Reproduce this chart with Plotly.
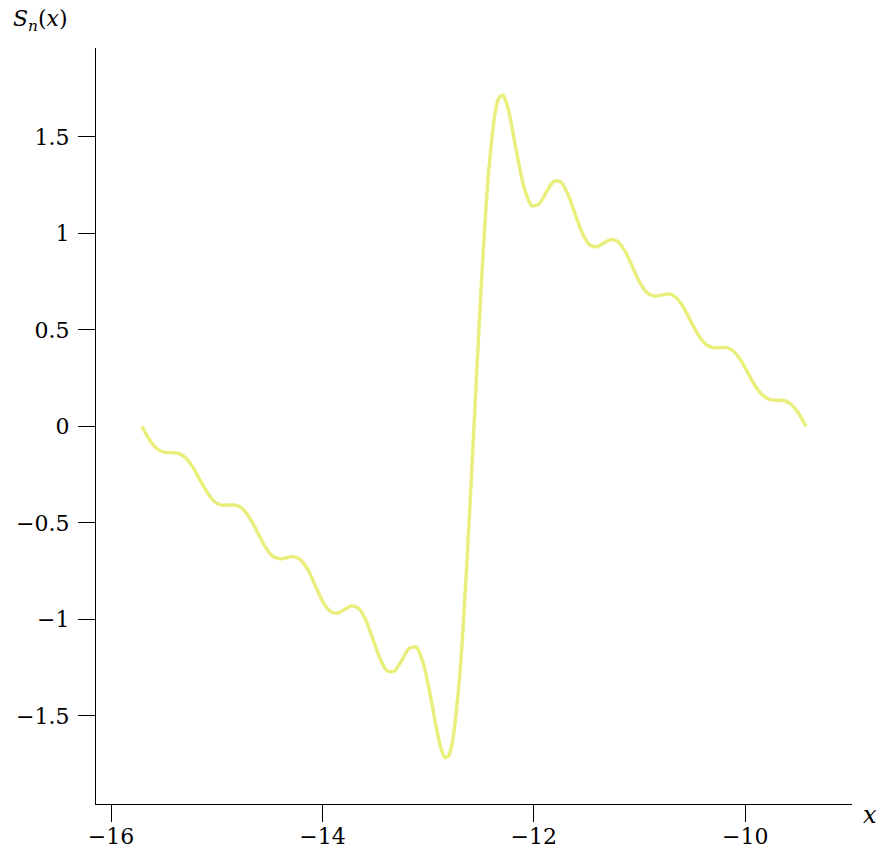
import plotly.graph_objects as go

# Partial Fourier sum S_n(x) (x from -5π to -3π)
x_values = [
    -15.708, -15.640, -15.572, -15.503, -15.435, -15.367, -15.298, -15.230, -15.162, -15.093,
    -15.025, -14.957, -14.889, -14.820, -14.752, -14.684, -14.615, -14.547, -14.479, -14.411,
    -14.342, -14.274, -14.206, -14.137, -14.069, -14.001, -13.932, -13.864, -13.796, -13.728,
    -13.659, -13.591, -13.523, -13.454, -13.386, -13.318, -13.250, -13.181, -13.113, -13.045,
    -12.976, -12.908, -12.874, -12.840, -12.805, -12.771, -12.703, -12.635,
    -12.566,
    -12.498, -12.430, -12.362, -12.327, -12.293, -12.259, -12.225, -12.157, -12.088, -12.020,
    -11.952, -11.883,
    -11.815, -11.747, -11.679, -11.610, -11.542, -11.474, -11.405, -11.337, -11.269, -11.201,
    -11.132, -11.064, -10.996, -10.927, -10.859, -10.791, -10.722, -10.654, -10.586, -10.518,
    -10.449, -10.381, -10.313, -10.244, -10.176, -10.108, -10.040, -9.971, -9.903, -9.835,
    -9.766, -9.698, -9.630, -9.561, -9.493, -9.425,
]
y_values = [
    0.0, -0.065, -0.112, -0.133, -0.136, -0.139, -0.161, -0.208, -0.274, -0.340,
    -0.388, -0.408, -0.408, -0.409, -0.429, -0.478, -0.548, -0.619, -0.668, -0.686,
    -0.681, -0.675, -0.692, -0.744, -0.823, -0.903, -0.956, -0.969, -0.951, -0.931,
    -0.942, -1.002, -1.101, -1.204, -1.268, -1.267, -1.213, -1.152, -1.144, -1.230,
    -1.403, -1.601, -1.676, -1.716, -1.706, -1.637, -1.303, -0.725,
    0.0,
    0.725, 1.303, 1.637, 1.706, 1.716, 1.676, 1.601, 1.403, 1.230, 1.144,
    1.152, 1.213,
    1.267, 1.268, 1.204, 1.101, 1.002, 0.942, 0.931, 0.951, 0.969, 0.956,
    0.903, 0.823, 0.744, 0.692, 0.675, 0.681, 0.686, 0.668, 0.619, 0.548,
    0.478, 0.429, 0.409, 0.408, 0.408, 0.388, 0.340, 0.274, 0.208, 0.161,
    0.139, 0.136, 0.133, 0.112, 0.065, 0.0,
]

x_tick_vals = [-16, -14, -12, -10]
x_tick_text = ["−16", "−14", "−12", "−10"]
y_tick_vals = [-1.5, -1, -0.5, 0, 0.5, 1, 1.5]
y_tick_text = ["−1.5", "−1", "−0.5", "0", "0.5", "1", "1.5"]

FONT = "DejaVu Serif"

fig = go.Figure()
fig.add_trace(go.Scatter(
    x=x_values, y=y_values, mode="lines",
    line=dict(color="#e9ee7c", width=3.5, shape="spline", smoothing=0.8),
    showlegend=False, hoverinfo="skip",
))

axis_common = dict(
    showline=True, linecolor="black", linewidth=1.2,
    ticks="outside", ticklen=17, tickwidth=1.2, tickcolor="black",
    showgrid=False, zeroline=False, automargin=False,
    tickfont=dict(family=FONT, size=22, color="black"),
)

fig.update_layout(
    width=881, height=851,
    margin=dict(l=96, r=29, t=48, b=47, autoexpand=False),
    paper_bgcolor="white", plot_bgcolor="white",
    font=dict(family=FONT),
    xaxis=dict(range=[-16.142, -8.99], tickvals=x_tick_vals, ticktext=x_tick_text,
               ticklabelstandoff=-5, **axis_common),
    yaxis=dict(range=[-1.957, 1.961], tickvals=y_tick_vals, ticktext=y_tick_text,
               ticklabelstandoff=4, **axis_common),
    annotations=[
        dict(text="<i>x</i>", xref="paper", yref="paper", x=1.024, y=-0.014,
             xanchor="center", yanchor="middle", showarrow=False,
             font=dict(family=FONT, size=24, color="black")),
        dict(text="<i>S</i><sub><i>n</i></sub>(<i>x</i>)", xref="paper", yref="paper",
             x=-0.074, y=1.037, xanchor="center", yanchor="middle", showarrow=False,
             font=dict(family=FONT, size=22, color="black")),
    ],
)

fig.write_html("out.html")
